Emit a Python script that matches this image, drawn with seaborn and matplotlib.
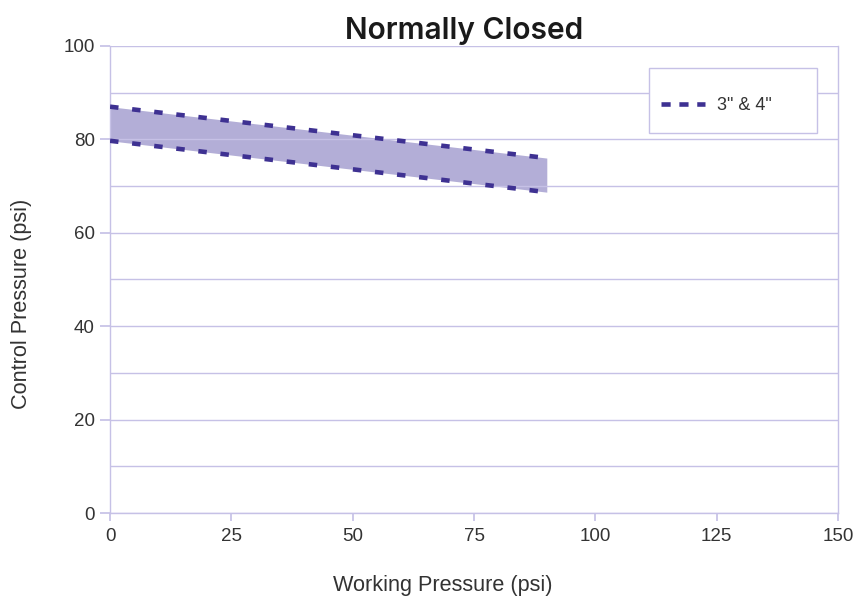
import matplotlib
matplotlib.use("Agg")
import matplotlib.pyplot as plt
from matplotlib.patches import Rectangle
import seaborn as sns
import pandas as pd

working = [0, 90]
upper = [87.0, 76.0]
lower = [79.7, 68.7]
series_label = '3" & 4"'
title = "Normally Closed"
xticks = [0, 25, 50, 75, 100, 125, 150]
yticks = [0, 20, 40, 60, 80, 100]

sns.set_theme(style="white")
plt.rcParams['font.family'] = ['Liberation Sans', 'DejaVu Sans']

grid_c = "#c6c1e6"
line_c = "#3e3192"
fill_c = "#b3aed7"
txt_c = "#333333"

fig = plt.figure(figsize=(8.57, 6.01), dpi=100)
ax = fig.add_axes([0.1284, 0.1464, 0.9778 - 0.1284, 0.9235 - 0.1464])

df = pd.DataFrame({"w": working + working,
                   "p": upper + lower,
                   "s": ["u", "u", "l", "l"]})

ax.fill_between(working, lower, upper, color=fill_c, linewidth=0, zorder=1)
dash = (0, (1.85, 3.0))
sns.lineplot(data=df[df.s == "u"], x="w", y="p", ax=ax, color=line_c, lw=3.3,
             linestyle=dash, zorder=3, label=series_label)
sns.lineplot(data=df[df.s == "l"], x="w", y="p", ax=ax, color=line_c, lw=3.3,
             linestyle=dash, zorder=3, label="_nolegend_")

ax.set_xlim(0, 150)
ax.set_ylim(0, 100)
ax.set_xticks(xticks)
ax.set_yticks(yticks)
ax.set_yticks(range(0, 101, 10), minor=True)
ax.grid(True, which="both", axis="y", color=grid_c, lw=1, zorder=2)
ax.set_axisbelow(False)
for s in ax.spines.values():
    s.set_color(grid_c)
    s.set_linewidth(1)
ax.spines["top"].set_visible(False)
ax.tick_params(axis="y", which="major", left=True, length=7, color=grid_c,
               labelsize=13.5, labelcolor=txt_c, pad=4)
ax.tick_params(axis="y", which="minor", left=False)
ax.tick_params(axis="x", bottom=True, length=6, color=grid_c,
               labelsize=13.5, labelcolor=txt_c, pad=5)

ax.set_xlabel("Working Pressure (psi)", fontsize=15.6, color=txt_c)
ax.xaxis.set_label_coords(0.457, -0.133)
ax.set_ylabel("Control Pressure (psi)", fontsize=15.6, color=txt_c)
ax.yaxis.set_label_coords(-0.107, 0.448)
ax.set_title(title, fontsize=21.5, fontweight="semibold", color="#1a1a1a",
             family=["Inter", "DejaVu Sans"], pad=5, x=0.486)

# legend box
box = Rectangle((0.7404, 0.8137), 0.2308, 0.1392, transform=ax.transAxes,
                facecolor="white", edgecolor=grid_c, lw=1, zorder=4,
                clip_on=False)
ax.add_patch(box)
leg = ax.legend(loc="center left", bbox_to_anchor=(0.7569, 0.8726),
                frameon=False, fontsize=13, handlelength=2.45,
                handletextpad=0.65, borderpad=0, labelcolor=txt_c,
                borderaxespad=0)
leg.set_zorder(5)
for h in leg.get_lines():
    h.set_linestyle((0, (2.0, 1.9)))

fig.savefig("out.png", dpi=100)
